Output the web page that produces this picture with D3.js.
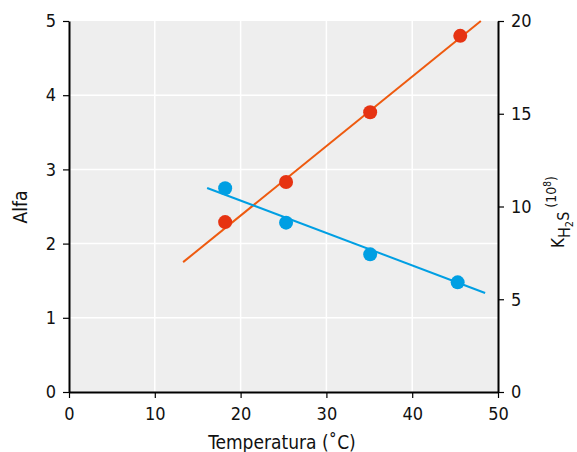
<!DOCTYPE html>
<html>
<head>
<meta charset="utf-8">
<script src="https://cdn.jsdelivr.net/npm/d3@7"></script>
<style>
  body { margin: 0; background: #fff; }
  text { font-family: "DejaVu Sans Condensed", "DejaVu Sans", sans-serif; font-stretch: condensed; fill: #111; }
</style>
</head>
<body>
<div id="chart"></div>
<script>
    // data
    var temps = [18.2, 25.3, 35.1, 45.6],
        alfa = [2.29, 2.83, 3.77, 4.80],
        tempsK = [18.2, 25.3, 35.1, 45.3],
        kh2s = [10.98, 9.13, 7.42, 5.91];

    // fitted lines, ends as drawn
    var alfaFit = [[13.3, 1.75], [48.0, 5.0]],
        kFit = [[16.1, 11.0], [48.5, 5.34]];

    var xTicks = [0, 10, 20, 30, 40, 50],
        yTicks = [0, 1, 2, 3, 4, 5],
        y2Ticks = [0, 5, 10, 15, 20];

    // plot box (window.top is taken, so own names)
    var w = 577,
        h = 452,
        pLeft = 69,
        pRight = 498,
        pTop = 21,
        pBottom = 392;

    var x = d3.scaleLinear().domain([0, 50]).range([pLeft, pRight]),
        y = d3.scaleLinear().domain([0, 5]).range([pBottom, pTop]),
        y2 = d3.scaleLinear().domain([0, 20]).range([pBottom, pTop]);

    var svg = d3.select("#chart")
        .append("svg")
        .attr("width", w)
        .attr("height", h);

    svg.append("rect")
        .attr("x", pLeft).attr("y", pTop)
        .attr("width", pRight - pLeft).attr("height", pBottom - pTop)
        .attr("fill", "#eeeeee");

    // white grid
    svg.selectAll(".gx")
        .data(xTicks.slice(1, -1))
        .enter().append("line")
        .attr("x1", function(d) { return x(d); })
        .attr("x2", function(d) { return x(d); })
        .attr("y1", pTop).attr("y2", pBottom)
        .attr("stroke", "#fff").attr("stroke-width", 1.5);

    svg.selectAll(".gy")
        .data(yTicks.slice(1, -1))
        .enter().append("line")
        .attr("y1", function(d) { return y(d); })
        .attr("y2", function(d) { return y(d); })
        .attr("x1", pLeft).attr("x2", pRight)
        .attr("stroke", "#fff").attr("stroke-width", 1.5);

    function styleAxis(g) {
        g.select(".domain").attr("stroke", "#000").attr("stroke-width", 2);
        g.selectAll(".tick line").attr("stroke", "#000").attr("stroke-width", 1.2);
        g.selectAll(".tick text").style("font-size", "18px").attr("fill", "#111");
    }

    svg.append("g")
        .attr("transform", "translate(0," + pBottom + ")")
        .call(d3.axisBottom(x).tickValues(xTicks).tickSize(6).tickSizeOuter(0).tickPadding(9).tickFormat(d3.format("d")))
        .call(styleAxis);

    svg.append("g")
        .attr("transform", "translate(" + pLeft + ",0)")
        .call(d3.axisLeft(y).tickValues(yTicks).tickSize(6).tickSizeOuter(0).tickPadding(7).tickFormat(d3.format("d")))
        .call(styleAxis);

    svg.append("g")
        .attr("transform", "translate(" + pRight + ",0)")
        .call(d3.axisRight(y2).tickValues(y2Ticks).tickSize(6).tickSizeOuter(0).tickPadding(7).tickFormat(d3.format("d")))
        .call(styleAxis);

    var line = d3.line();

    svg.append("path")
        .attr("d", line(alfaFit.map(function(p) { return [x(p[0]), y(p[1])]; })))
        .attr("stroke", "#ee5a0f").attr("stroke-width", 2).attr("fill", "none");

    svg.append("path")
        .attr("d", line(kFit.map(function(p) { return [x(p[0]), y2(p[1])]; })))
        .attr("stroke", "#009fe3").attr("stroke-width", 2).attr("fill", "none");

    svg.selectAll(".red")
        .data(temps)
        .enter().append("circle")
        .attr("cx", function(d) { return x(d); })
        .attr("cy", function(d, i) { return y(alfa[i]); })
        .attr("r", 7)
        .attr("fill", "#e63312");

    svg.selectAll(".blue")
        .data(tempsK)
        .enter().append("circle")
        .attr("cx", function(d) { return x(d); })
        .attr("cy", function(d, i) { return y2(kh2s[i]); })
        .attr("r", 7)
        .attr("fill", "#009fe3");

    // axis titles
    svg.append("text")
        .attr("x", 282)
        .attr("y", 449)
        .attr("text-anchor", "middle")
        .style("font-size", "19px")
        .text("Temperatura (˚C)");

    svg.append("text")
        .attr("transform", "translate(27,207) rotate(-90)")
        .attr("text-anchor", "middle")
        .style("font-size", "19px")
        .text("Alfa");

    var kt = svg.append("text")
        .attr("transform", "translate(564,248) rotate(-90)")
        .style("font-size", "17px");
    kt.append("tspan").text("K");
    kt.append("tspan").attr("dy", 6).style("font-size", "16px").text("H");
    kt.append("tspan").attr("dy", 3).style("font-size", "11px").text("2");
    kt.append("tspan").attr("dy", -4).style("font-size", "16px").text("S");
    kt.append("tspan").attr("dy", -13).style("font-size", "14px").text(" (10");
    kt.append("tspan").attr("dy", -5).style("font-size", "10px").text("8");
    kt.append("tspan").attr("dy", 5).style("font-size", "14px").text(")");
</script>
</body>
</html>
